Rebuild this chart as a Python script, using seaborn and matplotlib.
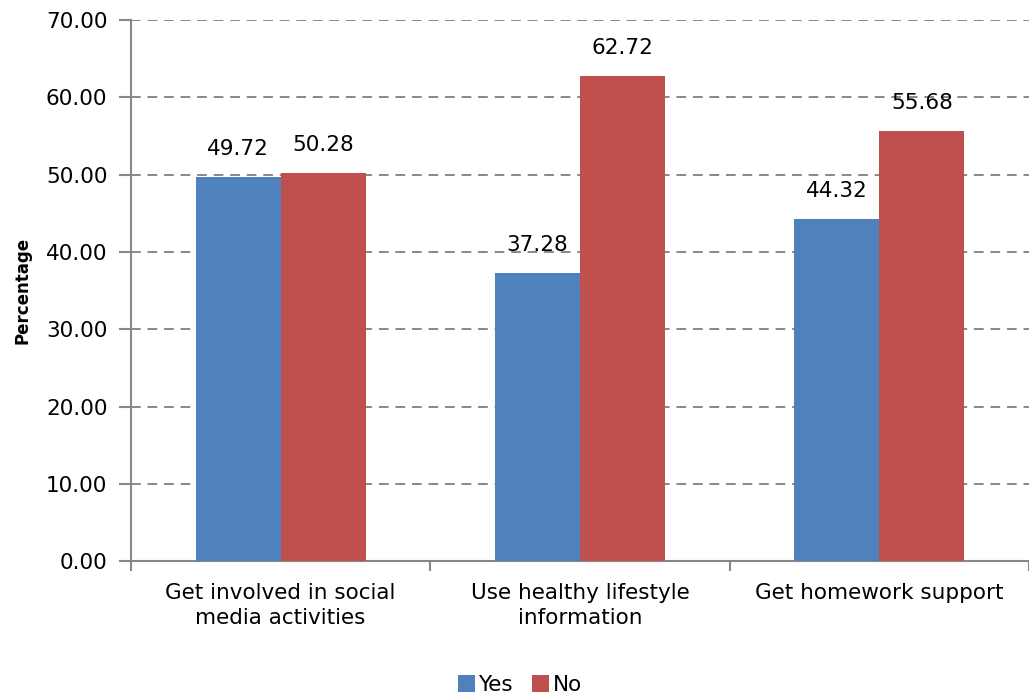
import numpy as np
import pandas as pd
import seaborn as sns
import matplotlib.pyplot as plt
from matplotlib.ticker import FixedLocator

categories = ["Get involved in social\nmedia activities",
              "Use healthy lifestyle\ninformation",
              "Get homework support"]
yes_vals = [49.72, 37.28, 44.32]
no_vals = [50.28, 62.72, 55.68]
series = ["Yes", "No"]

df = pd.DataFrame({
    "cat": categories * 2,
    "val": yes_vals + no_vals,
    "resp": ["Yes"] * 3 + ["No"] * 3,
})

sns.set_style("white")
plt.rcParams['font.family'] = ['DejaVu Sans']
plt.rcParams['text.color'] = 'black'
plt.rcParams['xtick.labelcolor'] = 'black'
plt.rcParams['ytick.labelcolor'] = 'black'
plt.rcParams['axes.labelcolor'] = 'black'

fig = plt.figure(figsize=(10.29, 6.97), dpi=100)
ax = fig.add_axes([0.1273, 0.195, 0.8727, 0.776])

pal = {"Yes": "#4F81BD", "No": "#C0504D"}
sns.barplot(data=df, x="cat", y="val", hue="resp", hue_order=series,
            palette=pal, width=0.567, saturation=1, ax=ax, zorder=3,
            edgecolor="none")

for cont in ax.containers:
    ax.bar_label(cont, fmt="%.2f", padding=13, fontsize=15.5, color="black")

ax.set_ylim(0, 70)
ax.set_xlim(-0.5, 2.5)
ax.set_yticks(np.arange(0, 71, 10))
ax.set_yticklabels([f"{v:.2f}" for v in np.arange(0, 71, 10)])
ax.yaxis.grid(True, linestyle=(0, (5, 3.5)), color="#888888", linewidth=1.4, zorder=0)
ax.xaxis.grid(False)
ax.set_axisbelow(True)

ax.tick_params(axis="y", which="major", direction="out", length=9, width=1.5,
               color="#888888", labelsize=15.5, pad=8, left=True)
ax.tick_params(axis="x", which="major", length=0, labelsize=15.5, pad=16)
for lbl in ax.get_xticklabels():
    lbl.set_linespacing(1.3)
ax.xaxis.set_minor_locator(FixedLocator([-0.5, 0.5, 1.5, 2.5]))
ax.tick_params(axis="x", which="minor", direction="out", length=7, width=1.5,
               color="#888888", bottom=True)

for s in ["top", "right"]:
    ax.spines[s].set_visible(False)
for s in ["left", "bottom"]:
    ax.spines[s].set_color("#888888")
    ax.spines[s].set_linewidth(1.5)

ax.set_xlabel("")
ax.set_ylabel("Percentage", fontsize=12, fontweight="bold", labelpad=10)

ax.legend(title=None, frameon=False, loc="center",
          bbox_to_anchor=(0.505, 0.017), bbox_transform=fig.transFigure,
          ncol=2, fontsize=15.5,
          handlelength=0.8, handleheight=0.8, handletextpad=0.15,
          columnspacing=0.9)

fig.savefig("out.png", dpi=100)
